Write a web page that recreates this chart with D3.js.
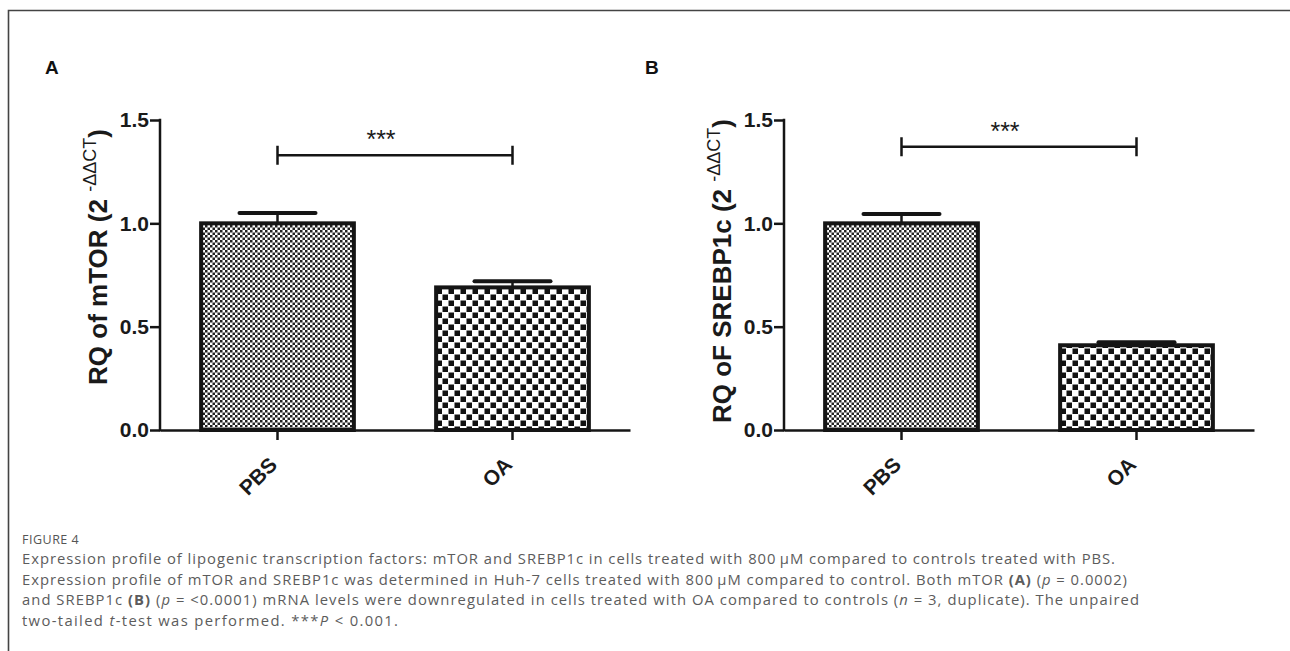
<!DOCTYPE html>
<html>
<head>
<meta charset="utf-8">
<script src="https://cdn.jsdelivr.net/npm/d3@7"></script>
<style>
  body { margin: 0; background: #fff; }
  svg { display: block; }
</style>
</head>
<body>
<div class="container"></div>
<script>
var WIDTH = 1290, HEIGHT = 651;

// data
var categories = ["PBS", "OA"];
var mtorMean = [1.00, 0.69];
var mtorErr = [0.05, 0.03];
var srebpMean = [1.00, 0.41];
var srebpErr = [0.045, 0.015];
var yTicks = [0, 0.5, 1.0, 1.5];
var sigHeight = [1.33, 1.37];
var sigLabel = "***";

var svg = d3.select('.container').append('svg')
    .attr('width', WIDTH)
    .attr('height', HEIGHT);

// patterns
var defs = svg.append('defs');
var fine = defs.append('pattern').attr('id', 'fine')
    .attr('patternUnits', 'userSpaceOnUse').attr('width', 5).attr('height', 5);
fine.append('rect').attr('width', 5).attr('height', 5).attr('fill', '#fff');
fine.append('rect').attr('width', 2.5).attr('height', 2.5).attr('fill', '#222');
fine.append('rect').attr('x', 2.5).attr('y', 2.5).attr('width', 2.5).attr('height', 2.5).attr('fill', '#222');

var coarse = defs.append('pattern').attr('id', 'coarse')
    .attr('patternUnits', 'userSpaceOnUse').attr('width', 12).attr('height', 12);
coarse.append('rect').attr('width', 12).attr('height', 12).attr('fill', '#fff');
coarse.append('rect').attr('x', 0.5).attr('y', 0.5).attr('width', 5.5).attr('height', 5.5).attr('fill', '#111');
coarse.append('rect').attr('x', 6.5).attr('y', 6.5).attr('width', 5.5).attr('height', 5.5).attr('fill', '#111');

var fills = ['url(#fine)', 'url(#coarse)'];

// frame
svg.append('path')
    .attr('d', 'M' + WIDTH + ',10.5 H8.5 V' + HEIGHT)
    .attr('fill', 'none').attr('stroke', '#444').attr('stroke-width', 1.6);

var _yScale = d3.scaleLinear().domain([0, 1.5]).range([430, 120]);

var drawPanel = function(opts) {
    var x0 = opts.x0;
    var g = svg.append('g').attr('transform', 'translate(' + x0 + ',0)');

    var xScale = d3.scaleBand()
        .domain(categories)
        .range([0, 470])
        .paddingInner(0.35)
        .paddingOuter(0.175);

    // panel letter
    svg.append('text')
        .attr('x', opts.letterX).attr('y', 74)
        .attr('font-family', 'Liberation Sans, Arial, sans-serif')
        .attr('font-weight', 'bold').attr('font-size', 19)
        .attr('fill', '#111')
        .text(opts.letter);

    // bars
    var values = categories.map(function(c, i) {
        return {name: c, value: opts.means[i], err: opts.errs[i], fill: fills[i]};
    });

    g.selectAll('rect.bar').data(values)
        .enter().append('rect')
        .classed('bar', true)
        .attr('x', function(d) { return xScale(d.name); })
        .attr('width', xScale.bandwidth())
        .attr('y', function(d) { return _yScale(d.value); })
        .attr('height', function(d) { return _yScale(0) - _yScale(d.value); })
        .attr('fill', function(d) { return d.fill; })
        .attr('stroke', '#151515')
        .attr('stroke-width', 4);

    // error bars
    var cx = function(d) { return xScale(d.name) + xScale.bandwidth() / 2; };
    g.selectAll('line.stem').data(values)
        .enter().append('line')
        .attr('x1', cx).attr('x2', cx)
        .attr('y1', function(d) { return _yScale(d.value); })
        .attr('y2', function(d) { return _yScale(d.value + d.err); })
        .attr('stroke', '#151515').attr('stroke-width', 2.5);
    g.selectAll('line.cap').data(values)
        .enter().append('line')
        .attr('x1', function(d) { return cx(d) - 38; })
        .attr('x2', function(d) { return cx(d) + 38; })
        .attr('y1', function(d) { return _yScale(d.value + d.err); })
        .attr('y2', function(d) { return _yScale(d.value + d.err); })
        .attr('stroke', '#151515').attr('stroke-width', 4)
        .attr('stroke-linecap', 'round');

    // y axis
    var yAxis = d3.axisLeft(_yScale)
        .tickValues(yTicks)
        .tickFormat(d3.format('.1f'))
        .tickSize(10)
        .tickPadding(1);
    var ya = g.append('g').call(yAxis);
    ya.select('.domain').remove();
    ya.selectAll('.tick line').attr('stroke', '#151515').attr('stroke-width', 2.5);
    ya.selectAll('.tick text')
        .attr('font-family', 'Liberation Sans, Arial, sans-serif')
        .attr('font-weight', 'bold').attr('font-size', 21)
        .attr('fill', '#1a1a1a');
    g.append('line')
        .attr('x1', 0).attr('x2', 0)
        .attr('y1', _yScale(1.5) - 1.2).attr('y2', _yScale(0) + 1.2)
        .attr('stroke', '#151515').attr('stroke-width', 2.5);

    // x axis
    var xAxis = d3.axisBottom(xScale).tickSize(10).tickSizeOuter(0);
    var xa = g.append('g').attr('transform', 'translate(0,' + _yScale(0) + ')').call(xAxis);
    xa.select('.domain').attr('stroke', '#151515').attr('stroke-width', 2.5);
    xa.selectAll('.tick line').attr('stroke', '#151515').attr('stroke-width', 2.5);
    xa.selectAll('.tick text')
        .attr('font-family', 'Liberation Sans, Arial, sans-serif')
        .attr('font-weight', 'bold').attr('font-size', 21)
        .attr('fill', '#1a1a1a')
        .attr('text-anchor', 'end')
        .attr('y', 0).attr('dy', 0)
        .attr('transform', 'translate(1,36) rotate(-45)');

    // significance bracket
    var by = _yScale(opts.sig);
    var bx1 = cx(values[0]), bx2 = cx(values[1]);
    g.append('path')
        .attr('d', 'M' + bx1 + ',' + (by - 9.5) + 'V' + (by + 9.5) +
                   'M' + bx1 + ',' + by + 'H' + bx2 +
                   'M' + bx2 + ',' + (by - 9.5) + 'V' + (by + 9.5))
        .attr('fill', 'none').attr('stroke', '#151515').attr('stroke-width', 2.5);
    g.append('text')
        .attr('x', (bx1 + bx2) / 2 - 14).attr('y', by - 7)
        .attr('text-anchor', 'middle')
        .attr('font-family', 'Liberation Sans, Arial, sans-serif')
        .attr('font-size', 25).attr('fill', '#1a1a1a')
        .text(sigLabel);

    // y label
    var lab = svg.append('text')
        .attr('transform', 'translate(' + opts.labelX + ',' + opts.labelY + ') rotate(-90)')
        .attr('text-anchor', 'middle')
        .attr('font-family', 'Liberation Sans, Arial, sans-serif')
        .attr('font-weight', 'bold').attr('font-size', 26)
        .attr('fill', '#1a1a1a');
    lab.append('tspan').text(opts.label + ' (2 ');
    lab.append('tspan').attr('dy', -11).attr('font-size', 18).attr('font-weight', 'normal').text('-\u0394\u0394CT');
    lab.append('tspan').attr('dy', 11).text(')');
};

drawPanel({x0: 160, letter: 'A', letterX: 45, labelX: 107, labelY: 257, label: 'RQ of mTOR',
           means: mtorMean, errs: mtorErr, sig: sigHeight[0]});
drawPanel({x0: 784, letter: 'B', letterX: 645, labelX: 731, labelY: 271, label: 'RQ oF SREBP1c',
           means: srebpMean, errs: srebpErr, sig: sigHeight[1]});

// caption
var capFont = 'Open Sans, Noto Sans, sans-serif';
svg.append('text')
    .attr('x', 22).attr('y', 544)
    .attr('font-family', capFont).attr('font-size', 12.5)
    .attr('letter-spacing', 0.5)
    .attr('fill', '#555')
    .text('FIGURE 4');

var captionLines = [
    [["Expression profile of lipogenic transcription factors: mTOR and SREBP1c in cells treated with 800\u2009\u00b5M compared to controls treated with PBS.", ""]],
    [["Expression profile of mTOR and SREBP1c was determined in Huh-7 cells treated with 800\u2009\u00b5M compared to control. Both mTOR ", ""],
     ["(A)", "b"], [" (", ""], ["p", "i"], [" = 0.0002)", ""]],
    [["and SREBP1c ", ""], ["(B)", "b"], [" (", ""], ["p", "i"],
     [" = <0.0001) mRNA levels were downregulated in cells treated with OA compared to controls (", ""],
     ["n", "i"], [" = 3, duplicate). The unpaired", ""]],
    [["two-tailed ", ""], ["t", "i"], ["-test was performed. ***", ""], ["P", "i"], [" < 0.001.", ""]]
];
var capBase = [564, 584.7, 605.3, 626];
var capWidth = [1093, 1105, 1117, 376];

captionLines.forEach(function(parts, i) {
    var t = svg.append('text')
        .attr('x', 22).attr('y', capBase[i])
        .attr('font-family', capFont).attr('font-size', 14.8)
        .attr('fill', '#5c5c5c')
        .attr('textLength', capWidth[i])
        .attr('lengthAdjust', 'spacing');
    parts.forEach(function(p) {
        var s = t.append('tspan').text(p[0]);
        if (p[1] === 'b') s.attr('font-weight', 'bold');
        if (p[1] === 'i') s.attr('font-style', 'italic');
    });
});
</script>
</body>
</html>
